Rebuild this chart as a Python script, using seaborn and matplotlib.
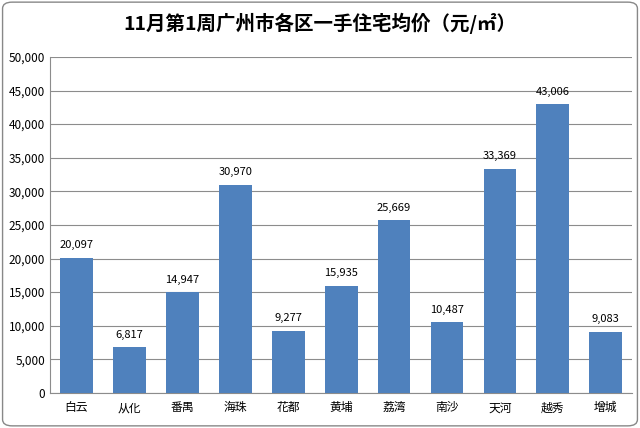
import matplotlib
matplotlib.use("Agg")
import matplotlib.pyplot as plt
import seaborn as sns
import pandas as pd
from matplotlib import font_manager
from matplotlib.ticker import FuncFormatter
from matplotlib.patches import FancyBboxPatch

# find a CJK font file directly, in case the family name isn't registered
cjk = [f for f in font_manager.findSystemFonts() if "CJK" in f or "cjk" in f.lower()]
if cjk:
    for f in cjk:
        font_manager.fontManager.addfont(f)
    cjk_name = font_manager.FontProperties(fname=sorted(cjk)[0]).get_name()
else:
    cjk_name = "Noto Sans CJK SC"
plt.rcParams["font.family"] = "sans-serif"
plt.rcParams["font.sans-serif"] = ["Noto Sans CJK SC", cjk_name, "DejaVu Sans"]

districts = ["白云", "从化", "番禺", "海珠", "花都", "黄埔", "荔湾", "南沙", "天河", "越秀", "增城"]
prices = [20097, 6817, 14947, 30970, 9277, 15935, 25669, 10487, 33369, 43006, 9083]

df = pd.DataFrame({"district": districts, "price": prices})

fig = plt.figure(figsize=(6.4, 4.28), dpi=100)
fig.patches.append(FancyBboxPatch((0.004, 0.005), 0.992, 0.99, boxstyle="round,pad=0,rounding_size=0.015",
                                  transform=fig.transFigure, fill=False, edgecolor="#888888", linewidth=1))
ax = fig.add_axes([0.078, 0.082, 0.91, 0.785])

sns.barplot(data=df, x="district", y="price", color="#4F81BD", width=0.62, saturation=1, ax=ax, zorder=3)

for i, v in enumerate(prices):
    ax.text(i, v + 1100, f"{v:,}", ha="center", va="bottom", fontsize=8)

ax.set_ylim(0, 50000)
ax.set_yticks(range(0, 50001, 5000))
ax.yaxis.set_major_formatter(FuncFormatter(lambda v, p: f"{int(v):,}"))
ax.grid(axis="y", color="#8c8c8c", linewidth=0.8, zorder=0)
ax.set_xlabel("")
ax.set_ylabel("")
ax.tick_params(axis="both", labelsize=8.5, length=0)
ax.tick_params(axis="x", pad=6)
for s in ["top", "right"]:
    ax.spines[s].set_visible(False)
for s in ["left", "bottom"]:
    ax.spines[s].set_color("#8c8c8c")

fig.text(0.5, 0.945, "11月第1周广州市各区一手住宅均价（元/㎡）", ha="center", va="center",
         fontsize=14, fontweight="bold")

fig.savefig("out.png", dpi=100)
